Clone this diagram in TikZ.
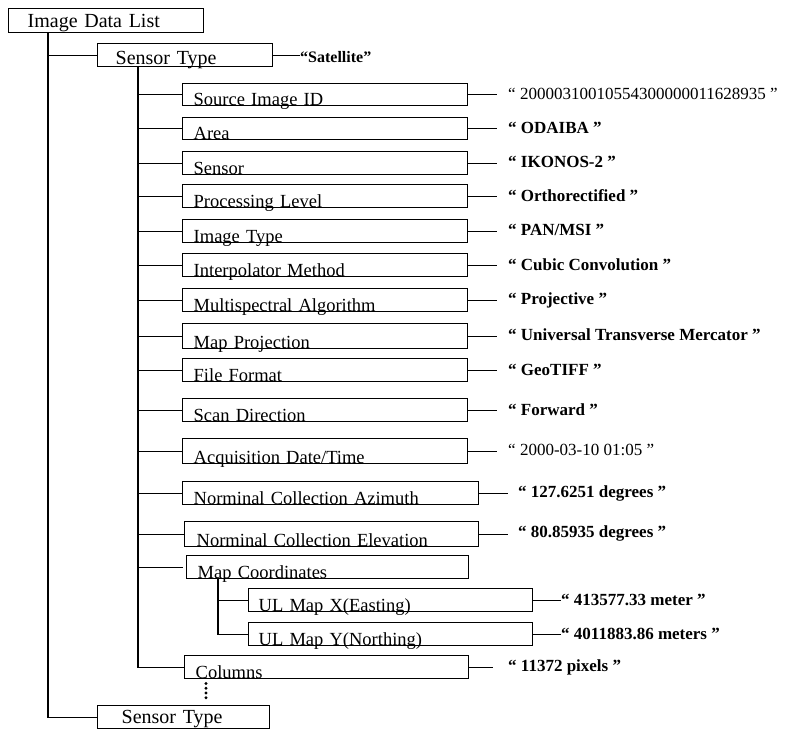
\documentclass[tikz,border=0pt]{standalone}
\usepackage{fontspec}
\setmainfont{Liberation Serif}
\usetikzlibrary{positioning,calc}
\newcommand{\fieldfont}{\fontsize{18.5bp}{22bp}\selectfont}
\newcommand{\headfont}{\fontsize{20bp}{24bp}\selectfont}
\newcommand{\valfont}{\fontsize{17bp}{20bp}\selectfont\bfseries}
\tikzset{
  fieldbox/.style={draw=black, line width=1.4bp, anchor=north west, inner xsep=11bp, inner ysep=0pt, text height=23bp, text depth=0pt, text width=#1, align=left, font=\fieldfont},
  fieldbox/.default=263bp,
  headbox/.style={draw=black, line width=1.4bp, anchor=north west, inner ysep=0pt, text height=19bp, text depth=5bp, align=left, font=\headfont},
  value/.style={anchor=west, inner sep=0pt, font=\valfont},
  plainvalue/.style={value, font=\fontsize{17bp}{20bp}\selectfont},
  link/.style={draw=black, line width=1.3bp},
  vlink/.style={link, shorten >=#1},
  vlink/.default=11bp,
  dotline/.style={draw=black, line width=3.2bp, line cap=round, dash pattern=on 0bp off 4.75bp}
}

\begin{document}
\begin{tikzpicture}[x=1bp, y=-1bp]
\useasboundingbox (0,0) rectangle (787,729);
\node[headbox, inner xsep=19bp, text width=157bp] (imglist) at (8,8) {Image Data List};
\node[headbox, inner xsep=18bp, text width=139bp, text height=21bp, text depth=2bp] (sensorA) at (97,43) {Sensor Type};
\node[value, font=\fontsize{16bp}{19bp}\selectfont\bfseries] (vsensorA) at (300,57) {“Satellite”};
\draw[link] (sensorA.east) -- (sensorA.east -| vsensorA.west);
\node[headbox, inner xsep=24bp, text width=124bp, text height=18bp, text depth=5bp] (sensorB) at (97,705) {Sensor Type};
\coordinate (trunk) at ([xshift=40bp]imglist.south west);
\draw[link] (trunk) |- (sensorB.west);
\draw[link] (trunk |- sensorA.west) -- (sensorA.west);

% fields under the first sensor type
\node[fieldbox, text height=22bp] (srcid) at (182,83) {Source Image ID};
\node[fieldbox, text height=22bp] (area) at (182,117) {Area};
\node[fieldbox] (sensor) at (182,151) {Sensor};
\node[fieldbox] (proclevel) at (182,184) {Processing Level};
\node[fieldbox] (imgtype) at (182,219) {Image Type};
\node[fieldbox] (interp) at (182,253) {Interpolator Method};
\node[fieldbox] (multispec) at (182,288) {Multispectral Algorithm};
\node[fieldbox, text height=25bp] (mapproj) at (182,323) {Map Projection};
\node[fieldbox] (fileformat) at (182,358) {File Format};
\node[fieldbox] (scandir) at (182,398) {Scan Direction};
\node[fieldbox, text height=25bp] (acqtime) at (182,438) {Acquisition Date/Time};
\node[fieldbox=274bp] (azimuth) at (182,481) {Norminal Collection Azimuth};
\node[fieldbox=270bp, inner xsep=12bp, text height=25bp] (elevation) at (184,521) {Norminal Collection Elevation};
\node[fieldbox=260bp] (mapcoord) at (186,555) {Map Coordinates};
\node[fieldbox=264bp, inner xsep=10bp] (ulx) at (248,588) {UL Map X(Easting)};
\node[fieldbox=264bp, inner xsep=10bp] (uly) at (248,622) {UL Map Y(Northing)};
\node[fieldbox=262bp] (columns) at (184,655) {Columns};

\coordinate (stem) at ([xshift=41bp]sensorA.south west);
\draw[link] (stem) |- (columns.west);
\draw[link] (stem |- srcid.west) -- (srcid.west);
\draw[link] (stem |- area.west) -- (area.west);
\draw[link] (stem |- sensor.west) -- (sensor.west);
\draw[link] (stem |- proclevel.west) -- (proclevel.west);
\draw[link] (stem |- imgtype.west) -- (imgtype.west);
\draw[link] (stem |- interp.west) -- (interp.west);
\draw[link] (stem |- multispec.west) -- (multispec.west);
\draw[link] (stem |- mapproj.west) -- (mapproj.west);
\draw[link] (stem |- fileformat.west) -- (fileformat.west);
\draw[link] (stem |- scandir.west) -- (scandir.west);
\draw[link] (stem |- acqtime.west) -- (acqtime.west);
\draw[link] (stem |- azimuth.west) -- (azimuth.west);
\draw[link] (stem |- elevation.west) -- (elevation.west);
\draw[link, shorten >=3bp] (stem |- mapcoord.west) -- (mapcoord.west);
\coordinate (substem) at ([xshift=32bp]mapcoord.south west);
\draw[link] (substem) |- (uly.west);
\draw[link] (substem |- ulx.west) -- (ulx.west);
\coordinate (dotc) at ([xshift=22bp]columns.south west);
\draw[dotline, shorten <=4bp, shorten >=3bp] (dotc) -- (dotc |- sensorB.north);

% values
\node[plainvalue] (vsrcid) at (508,94) {“ 20000310010554300000011628935 ”};
\node[value] (varea) at (508,128) {“ ODAIBA ”};
\node[value] (vsensor) at (508,162) {“ IKONOS-2 ”};
\node[value] (vproclevel) at (508,196) {“ Orthorectified ”};
\node[value] (vimgtype) at (508,230) {“ PAN/MSI ”};
\node[value] (vinterp) at (508,265) {“ Cubic Convolution ”};
\node[value] (vmultispec) at (508,300) {“ Projective ”};
\node[value] (vmapproj) at (508,335) {“ Universal Transverse Mercator ”};
\node[value] (vfileformat) at (508,370) {“ GeoTIFF ”};
\node[value] (vscandir) at (508,410) {“ Forward ”};
\node[plainvalue] (vacqtime) at (508,450) {“ 2000-03-10 01:05 ”};
\node[value] (vazimuth) at (518,493) {“ 127.6251 degrees ”};
\node[value] (velevation) at (518,533) {“ 80.85935 degrees ”};
\node[value] (vulx) at (561,600) {“ 413577.33 meter ”};
\node[value] (vuly) at (561,634) {“ 4011883.86 meters ”};
\node[value] (vcolumns) at (508,667) {“ 11372 pixels ”};

\draw[vlink] (srcid.east) -- (srcid.east -| vsrcid.west);
\draw[vlink] (area.east) -- (area.east -| varea.west);
\draw[vlink] (sensor.east) -- (sensor.east -| vsensor.west);
\draw[vlink] (proclevel.east) -- (proclevel.east -| vproclevel.west);
\draw[vlink] (imgtype.east) -- (imgtype.east -| vimgtype.west);
\draw[vlink] (interp.east) -- (interp.east -| vinterp.west);
\draw[vlink] (multispec.east) -- (multispec.east -| vmultispec.west);
\draw[vlink] (mapproj.east) -- (mapproj.east -| vmapproj.west);
\draw[vlink] (fileformat.east) -- (fileformat.east -| vfileformat.west);
\draw[vlink] (scandir.east) -- (scandir.east -| vscandir.west);
\draw[vlink] (acqtime.east) -- (acqtime.east -| vacqtime.west);
\draw[vlink=10bp] (azimuth.east) -- (azimuth.east -| vazimuth.west);
\draw[vlink=10bp] (elevation.east) -- (elevation.east -| velevation.west);
\draw[vlink=0bp] (ulx.east) -- (ulx.east -| vulx.west);
\draw[vlink=0bp] (uly.east) -- (uly.east -| vuly.west);
\draw[vlink=15bp] (columns.east) -- (columns.east -| vcolumns.west);
\end{tikzpicture}
\end{document}
